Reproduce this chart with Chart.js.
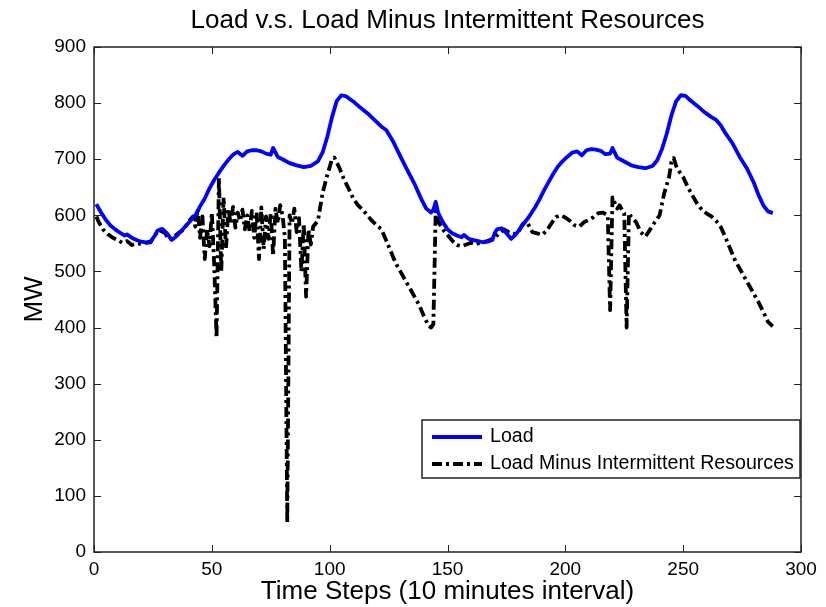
<!DOCTYPE html>
<html>
<head>
<meta charset="utf-8">
<title>Load v.s. Load Minus Intermittent Resources</title>
<script src="https://cdn.jsdelivr.net/npm/chart.js@4.4.1/dist/chart.umd.min.js"></script>
<style>
    body { margin: 0; background: #fff; }
    canvas { display: block; }
</style>
</head>
<body>
<canvas id="loadChart" width="826" height="607"></canvas>
<script>
// Time steps (10 min) and MW values
const loadSteps = [1, 3, 5, 7, 9, 11, 13, 14, 16, 18, 20, 22, 24, 26, 27, 29, 31, 33, 35, 37, 40, 43, 45, 47, 49, 51, 53, 55, 57, 59, 61, 63, 65, 67, 69, 71, 73, 75, 76, 78, 80, 83, 86, 89, 92, 95, 97, 99, 101, 103, 105, 107, 110, 113, 116, 119, 122, 124, 127, 130, 133, 136, 139, 141, 143, 144, 145, 146, 148, 150, 152, 154, 156, 157, 159, 161, 163, 165, 167, 169, 170, 171, 173, 175, 177, 179, 182, 185, 187, 189, 191, 193, 195, 197, 199, 201, 203, 205, 207, 209, 211, 213, 215, 217, 219, 220, 222, 225, 228, 231, 234, 237, 239, 241, 243, 245, 247, 249, 251, 253, 256, 259, 262, 264, 266, 268, 271, 274, 277, 280, 282, 284, 286, 288];
const loadValues = [620, 605, 592, 582, 575, 569, 564, 566, 560, 556, 553, 552, 553, 565, 573, 576, 568, 556, 563, 572, 586, 600, 616, 630, 648, 663, 676, 688, 699, 708, 713, 706, 714, 716, 716, 714, 710, 708, 720, 704, 700, 693, 689, 686, 688, 696, 712, 740, 775, 804, 814, 812, 803, 792, 782, 770, 758, 752, 731, 705, 680, 656, 628, 612, 605, 610, 624, 605, 588, 575, 568, 564, 561, 565, 558, 556, 554, 552, 553, 556, 568, 575, 577, 568, 558, 566, 583, 600, 613, 628, 645, 660, 675, 688, 697, 705, 712, 714, 707, 716, 718, 717, 715, 709, 710, 720, 703, 696, 689, 686, 684, 688, 698, 718, 745, 778, 803, 814, 813, 805, 795, 784, 775, 770, 760, 746, 728, 704, 684, 658, 636, 618, 607, 604];

const netSteps = [1, 2, 4, 6, 8, 10, 12, 14, 16, 18, 20, 22, 24, 26, 28, 30, 32, 34, 36, 38, 40, 42, 43, 44, 45, 46, 47, 48, 49, 50, 51, 52, 53, 54, 55, 56, 57, 58, 59, 60, 61, 62, 63, 64, 65, 66, 67, 68, 69, 70, 71, 72, 73, 74, 75, 76, 77, 78, 79, 80, 81, 82, 83, 84, 85, 86, 87, 88, 89, 90, 91, 92, 93, 95, 97, 99, 101, 102, 104, 106, 108, 110, 112, 114, 116, 118, 120, 122, 124, 126, 128, 130, 132, 134, 136, 138, 140, 142, 143, 144, 145, 146, 148, 150, 152, 154, 156, 158, 160, 162, 164, 166, 168, 170, 172, 174, 176, 178, 180, 182, 184, 186, 188, 190, 192, 194, 196, 198, 200, 202, 204, 206, 208, 210, 212, 214, 216, 218, 219, 220, 221, 222, 223, 224, 225, 226, 227, 228, 230, 232, 234, 236, 238, 240, 242, 244, 245, 246, 247, 248, 250, 252, 254, 256, 258, 260, 262, 264, 266, 268, 270, 272, 274, 276, 278, 280, 282, 284, 286, 288];
const netValues = [598, 588, 574, 566, 560, 556, 551, 554, 547, 550, 549, 551, 552, 566, 573, 569, 556, 562, 569, 574, 588, 598, 580, 612, 560, 598, 522, 575, 545, 605, 512, 382, 667, 500, 632, 540, 612, 585, 615, 578, 605, 590, 610, 575, 600, 572, 608, 560, 606, 522, 614, 540, 598, 558, 604, 528, 612, 586, 618, 600, 560, 52, 600, 585, 612, 570, 595, 500, 585, 455, 575, 548, 580, 590, 640, 672, 700, 703, 686, 665, 648, 630, 618, 610, 600, 590, 582, 575, 555, 535, 515, 500, 485, 470, 455, 440, 420, 403, 400, 406, 608, 590, 575, 565, 555, 547, 545, 548, 551, 548, 552, 553, 556, 560, 568, 575, 570, 566, 570, 585, 586, 570, 568, 565, 572, 585, 597, 600, 596, 590, 582, 580, 588, 592, 597, 604, 605, 600, 431, 632, 622, 612, 618, 610, 604, 400, 604, 597, 588, 570, 562, 575, 588, 600, 640, 668, 695, 702, 688, 680, 668, 650, 635, 620, 610, 603, 598, 590, 579, 560, 540, 520, 505, 490, 475, 460, 445, 428, 410, 402];

const xTicks = [0, 50, 100, 150, 200, 250, 300];
const yTicks = [0, 100, 200, 300, 400, 500, 600, 700, 800, 900];

const fontFamily = '"Liberation Sans", Arial, Helvetica, sans-serif';
const netDash = [10, 4, 3, 4];

function toPoints(steps, values) {
    return steps.map((t, i) => ({ x: t, y: values[i] }));
}

// Box around the plot, inward ticks and the legend inside the axes
const framePlugin = {
    id: 'frame',
    afterDraw(chart) {
        const ctx = chart.ctx;
        const area = chart.chartArea;
        const xs = chart.scales.x;
        const ys = chart.scales.y;
        const tick = 7;

        ctx.save();
        ctx.strokeStyle = '#222';
        ctx.lineWidth = 1.5;
        ctx.strokeRect(area.left, area.top, area.right - area.left, area.bottom - area.top);

        ctx.lineWidth = 1;
        ctx.beginPath();
        xTicks.forEach(v => {
            const px = Math.round(xs.getPixelForValue(v)) + 0.5;
            ctx.moveTo(px, area.bottom); ctx.lineTo(px, area.bottom - tick);
            ctx.moveTo(px, area.top); ctx.lineTo(px, area.top + tick);
        });
        yTicks.forEach(v => {
            const py = Math.round(ys.getPixelForValue(v)) + 0.5;
            ctx.moveTo(area.left, py); ctx.lineTo(area.left + tick, py);
            ctx.moveTo(area.right, py); ctx.lineTo(area.right - tick, py);
        });
        ctx.stroke();

        // legend box
        const boxW = 378, boxH = 58;
        const bx = area.right - boxW - 1;
        const by = area.top + 373;
        ctx.fillStyle = '#fff';
        ctx.fillRect(bx, by, boxW, boxH);
        ctx.strokeStyle = '#222';
        ctx.lineWidth = 1.5;
        ctx.strokeRect(bx, by, boxW, boxH);

        ctx.font = '19.6px ' + fontFamily;
        ctx.textBaseline = 'middle';
        ctx.textAlign = 'left';
        chart.data.datasets.forEach((ds, i) => {
            const ly = by + 17 + i * 27;
            ctx.beginPath();
            ctx.strokeStyle = ds.borderColor;
            ctx.lineWidth = ds.borderWidth;
            ctx.setLineDash(ds.borderDash || []);
            ctx.moveTo(bx + 10, ly);
            ctx.lineTo(bx + 60, ly);
            ctx.stroke();
            ctx.setLineDash([]);
            ctx.fillStyle = '#000';
            ctx.fillText(ds.label, bx + 68, ly);
        });
        ctx.restore();
    }
};

const ctx = document.getElementById('loadChart').getContext('2d');
const loadChart = new Chart(ctx, {
    type: 'line',
    data: {
        datasets: [{
            label: 'Load',
            data: toPoints(loadSteps, loadValues),
            borderColor: '#0000ff',
            borderWidth: 3.8,
            borderJoinStyle: 'round',
            pointRadius: 0,
            tension: 0,
            fill: false
        }, {
            label: 'Load Minus Intermittent Resources',
            data: toPoints(netSteps, netValues),
            borderColor: '#000000',
            borderWidth: 3.8,
            borderDash: netDash,
            borderJoinStyle: 'round',
            pointRadius: 0,
            tension: 0,
            fill: false
        }]
    },
    options: {
        responsive: false,
        animation: false,
        layout: { padding: { left: 0, right: 25, top: 0, bottom: 0 } },
        plugins: {
            legend: { display: false },
            tooltip: { enabled: false },
            title: {
                display: true,
                fullSize: false,
                text: 'Load v.s. Load Minus Intermittent Resources',
                color: '#000',
                font: { family: fontFamily, size: 26, weight: 'normal', lineHeight: 1.2 },
                padding: { top: 5.4, bottom: 10.4 }
            }
        },
        scales: {
            x: {
                type: 'linear',
                min: 0,
                max: 300,
                afterBuildTicks: scale => { scale.ticks = xTicks.map(v => ({ value: v })); },
                afterFit: scale => { scale.height = 55; },
                grid: { display: false, drawTicks: false },
                border: { display: false },
                ticks: {
                    padding: 6,
                    color: '#000',
                    font: { family: fontFamily, size: 19 }
                },
                title: {
                    display: true,
                    text: 'Time Steps (10 minutes interval)',
                    color: '#000',
                    font: { family: fontFamily, size: 26, lineHeight: 1.2 },
                    padding: { top: 0, bottom: 0 }
                }
            },
            y: {
                min: 0,
                max: 900,
                afterBuildTicks: scale => { scale.ticks = yTicks.map(v => ({ value: v })); },
                afterFit: scale => { scale.width = 94; },
                grid: { display: false, drawTicks: false },
                border: { display: false },
                ticks: {
                    padding: 8,
                    color: '#000',
                    font: { family: fontFamily, size: 19 }
                },
                title: {
                    display: true,
                    text: 'MW',
                    color: '#000',
                    font: { family: fontFamily, size: 26, lineHeight: 1.2 },
                    padding: { top: 19, bottom: 0 }
                }
            }
        }
    },
    plugins: [framePlugin]
});
</script>
</body>
</html>
